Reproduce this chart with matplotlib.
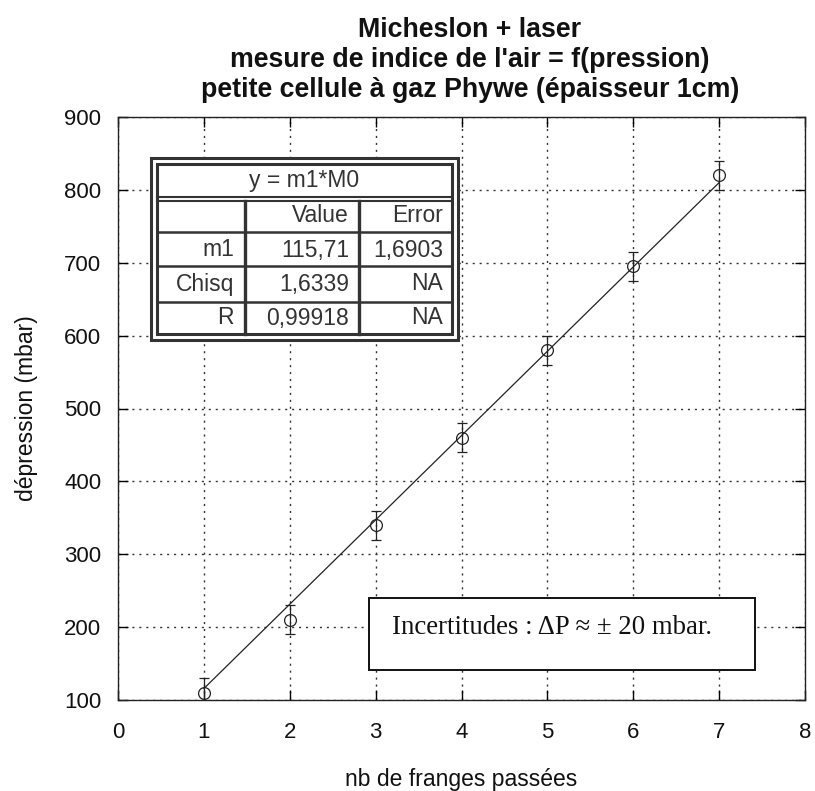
import matplotlib
matplotlib.use('Agg')
import matplotlib.pyplot as plt
from matplotlib.patches import Rectangle
import numpy as np

plt.rcParams['font.family'] = ['Liberation Sans', 'DejaVu Sans']

# données
nb_franges = [1, 2, 3, 4, 5, 6, 7]
depression = [110, 210, 340, 460, 580, 695, 820]
incertitude = [20, 20, 20, 20, 20, 20, 20]

# ajustement y = m1*M0
m1 = 115.71
fit_x = np.array([1, 7])

title_lines = ["Micheslon + laser",
               "mesure de indice de l'air = f(pression)",
               "petite cellule à gaz Phywe (épaisseur 1cm)"]
xticks = [0, 1, 2, 3, 4, 5, 6, 7, 8]
yticks = [100, 200, 300, 400, 500, 600, 700, 800, 900]

table_title = "y = m1*M0"
table_rows = [["", "Value", "Error"],
              ["m1", "115,71", "1,6903"],
              ["Chisq", "1,6339", "NA"],
              ["R", "0,99918", "NA"]]

note = "Incertitudes : ΔP ≈ ± 20 mbar."

W, H = 815, 791
fig = plt.figure(figsize=(W / 100, H / 100), dpi=100)

# axe principal (pixels : x 118..805, y 117..700)
ax = fig.add_axes([118 / W, 1 - 700 / H, 687 / W, 583 / H])
ax.set_xlim(0, 8)
ax.set_ylim(100, 900)
ax.set_xticks(xticks)
ax.set_yticks(yticks)
ax.tick_params(direction='in', length=7, width=1, top=True, right=True,
               labelsize=16, labelcolor='#111')
ax.tick_params(axis='x', pad=16)
ax.tick_params(axis='y', pad=12)
for s in ax.spines.values():
    s.set_linewidth(1)
    s.set_color('#222')
ax.grid(True, color='#333', lw=1, linestyle=(0, (1.5, 3.5)))

ax.plot(fit_x, m1 * fit_x, color='#222', lw=0.9, zorder=3)
ax.errorbar(nb_franges, depression, yerr=incertitude, fmt='o', ms=8.5,
            mfc='none', mec='#222', mew=0.9, ecolor='#222', elinewidth=0.9,
            capsize=3.5, capthick=0.9, zorder=4)

ax.set_xlabel("nb de franges passées", fontsize=16.5, color='#111')
ax.set_ylabel("dépression (mbar)", fontsize=16.5, color='#111')
ax.xaxis.set_label_coords(0.5, -(768 - 700) / 583)
ax.yaxis.set_label_coords(-(118 - 38) / 687, 0.5)

# calque en pixels pour titre, tableau et encadré
ov = fig.add_axes([0, 0, 1, 1], zorder=10)
ov.set_xlim(0, W)
ov.set_ylim(H, 0)
ov.axis('off')
ov.patch.set_alpha(0)

for i, line in enumerate(title_lines):
    ov.text(470, 30 + i * 30, line, ha='center', va='center',
            fontsize=19.3, fontweight='bold', color='#111')

# tableau des résultats
tc = '#333'
ov.add_patch(Rectangle((151, 157.5), 307, 182, fill=True, fc='white',
                       ec=tc, lw=2.2))
ov.add_patch(Rectangle((157, 163.5), 295, 170, fill=False, ec=tc, lw=2.2))
for yy in [196.5, 200.5]:
    ov.plot([157, 452], [yy, yy], color=tc, lw=1.5)
for yy in [231.5, 266, 301.5]:
    ov.plot([157, 452], [yy, yy], color=tc, lw=1.8)
for xx in [245, 358.5]:
    ov.plot([xx, xx], [200.5, 333.5], color=tc, lw=2.4)
ov.text(304, 180, table_title, ha='center', va='center', fontsize=16.5, color=tc)
row_y = [215, 250, 284, 318]
col_x = [234, 349, 443]
for r, row in enumerate(table_rows):
    for c, val in enumerate(row):
        ov.text(col_x[c], row_y[r], val, ha='right', va='center',
                fontsize=16.5, color=tc)

# encadré des incertitudes
ov.add_patch(Rectangle((369, 598), 386, 72, fill=True, fc='white',
                       ec='#111', lw=1.4))
ov.text(392, 628, note, ha='left', va='center', fontsize=19.3,
        family=['Liberation Serif', 'DejaVu Serif'], color='#111')

fig.savefig("out.png", dpi=100)
